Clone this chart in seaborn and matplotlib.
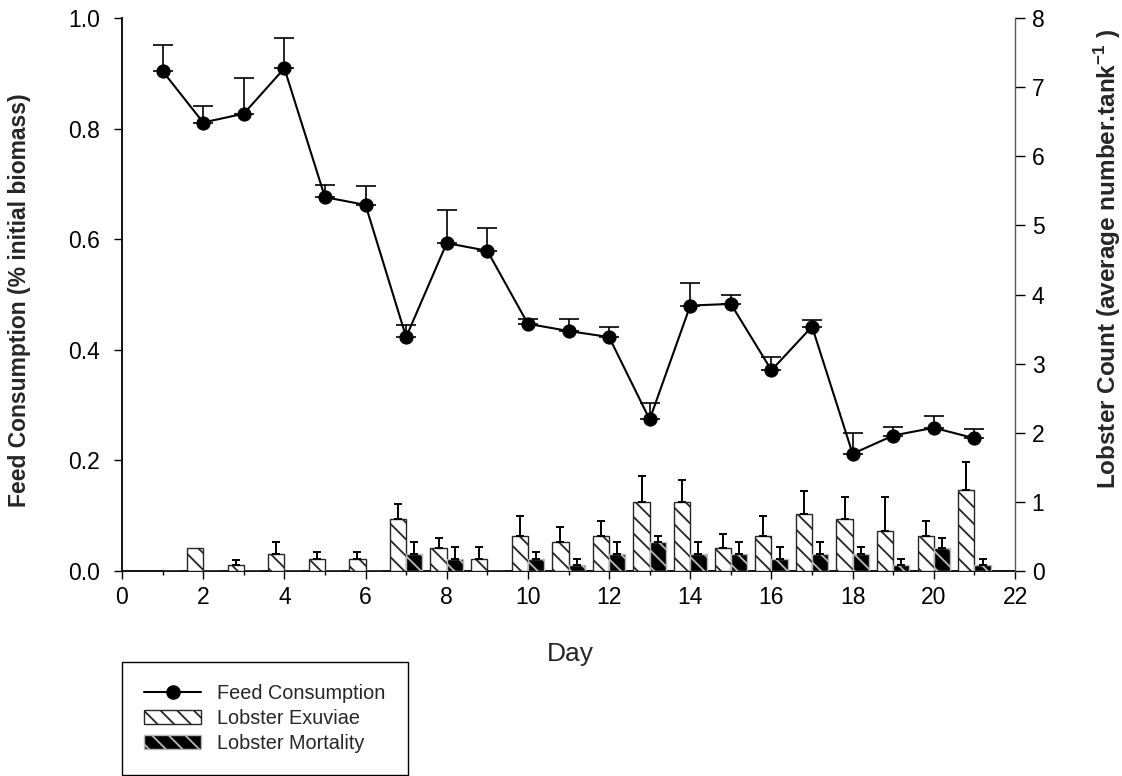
import numpy as np
import pandas as pd
import matplotlib
matplotlib.use("Agg")
import matplotlib.pyplot as plt
from matplotlib.lines import Line2D
from matplotlib.patches import Patch
from matplotlib.ticker import MultipleLocator, FormatStrFormatter
import seaborn as sns

# Daily trial data
days = list(range(1, 22))

feed = [0.904, 0.811, 0.827, 0.909, 0.676, 0.662, 0.423, 0.593, 0.579, 0.447, 0.434,
        0.423, 0.274, 0.480, 0.483, 0.363, 0.442, 0.212, 0.245, 0.259, 0.240]
feed_err = [0.048, 0.030, 0.065, 0.054, 0.022, 0.034, 0.022, 0.059, 0.042, 0.009, 0.022,
            0.018, 0.030, 0.041, 0.016, 0.024, 0.011, 0.037, 0.016, 0.021, 0.017]

exuviae = [0.0, 0.33, 0.08, 0.25, 0.17, 0.17, 0.75, 0.33, 0.17, 0.50, 0.42,
           0.50, 1.00, 1.00, 0.33, 0.50, 0.83, 0.75, 0.58, 0.50, 1.17]
exuviae_err = [0.0, 0.0, 0.08, 0.17, 0.10, 0.10, 0.22, 0.15, 0.17, 0.30, 0.21,
               0.22, 0.37, 0.31, 0.21, 0.30, 0.33, 0.32, 0.49, 0.22, 0.40]

mortality = [0.0, 0.0, 0.0, 0.0, 0.0, 0.0, 0.25, 0.17, 0.0, 0.17, 0.08,
             0.25, 0.42, 0.25, 0.25, 0.17, 0.25, 0.25, 0.08, 0.33, 0.08]
mortality_err = [0.0, 0.0, 0.0, 0.0, 0.0, 0.0, 0.17, 0.17, 0.0, 0.10, 0.10,
                 0.17, 0.09, 0.17, 0.17, 0.17, 0.17, 0.09, 0.09, 0.15, 0.09]

series_names = ["Lobster Exuviae", "Lobster Mortality"]

sns.set_theme(style="ticks")
plt.rcParams["font.family"] = ["Liberation Sans", "DejaVu Sans"]
plt.rcParams["mathtext.fontset"] = "custom"
plt.rcParams["mathtext.rm"] = "Liberation Sans"
plt.rcParams["mathtext.bf"] = "Liberation Sans:bold"
plt.rcParams["hatch.linewidth"] = 1.3

W, H = 1122, 776
fig = plt.figure(figsize=(W / 100, H / 100), dpi=100)
x0, x1, y0, y1 = 122, 1015, 18, 571
ax = fig.add_axes([x0 / W, 1 - y1 / H, (x1 - x0) / W, (y1 - y0) / H])
ax2 = ax.twinx()

# Bars (right axis): exuviae and mortality counts, dodged around each day
counts = pd.DataFrame({
    "Day": days * 2,
    "Count": exuviae + mortality,
    "Type": [series_names[0]] * len(days) + [series_names[1]] * len(days),
})
sns.barplot(data=counts, x="Day", y="Count", hue="Type", hue_order=series_names,
            native_scale=True, errorbar=None, width=0.8, saturation=1,
            palette={series_names[0]: "white", series_names[1]: "black"},
            legend=False, ax=ax2)

styles = [dict(edgecolor="0.15", hatch="\\\\"), dict(edgecolor="0.72", hatch="\\\\")]
errs = [exuviae_err, mortality_err]
vals = [exuviae, mortality]
for cont, st, err, val in zip(ax2.containers, styles, errs, vals):
    xs = []
    for p in cont.patches:
        p.set_edgecolor(st["edgecolor"])
        p.set_hatch(st["hatch"])
        p.set_linewidth(1.0)
        xs.append(p.get_x() + p.get_width() / 2)
    e = np.array(err, dtype=float)
    v = np.array(val, dtype=float)
    mask = e > 0
    ax2.errorbar(np.array(xs)[mask], v[mask], yerr=[np.zeros(mask.sum()), e[mask]],
                 fmt="none", ecolor="black", elinewidth=1.4, capsize=3.2,
                 capthick=1.4, zorder=3)

# Feed consumption line (left axis)
sns.lineplot(x=days, y=feed, ax=ax, color="black", linewidth=1.5, marker="o",
             markersize=9.5, markeredgecolor="black", zorder=4)
ax.errorbar(days, feed, yerr=[np.zeros(len(feed)), feed_err], fmt="none",
            ecolor="black", elinewidth=1.2, capsize=7, capthick=1.2, zorder=3)

# Axes and ticks
ax.set_xlim(0, 22)
ax.set_ylim(0, 1.0)
ax2.set_ylim(0, 8)
ax.xaxis.set_major_locator(MultipleLocator(2))
ax.xaxis.set_minor_locator(MultipleLocator(1))
ax.yaxis.set_major_locator(MultipleLocator(0.2))
ax.yaxis.set_major_formatter(FormatStrFormatter("%.1f"))
ax2.yaxis.set_major_locator(MultipleLocator(1))

for a in (ax, ax2):
    a.tick_params(axis="both", which="major", direction="out", length=6, width=1.0,
                  labelsize=16.5, color="black", labelcolor="black", pad=5)
    a.tick_params(axis="both", which="minor", direction="out", length=3, width=1.0,
                  color="black")
ax.tick_params(axis="y", which="major", pad=10)
ax2.tick_params(axis="y", which="major", length=7)

ax.spines["top"].set_visible(False)
ax.spines["right"].set_visible(False)
for s in ("top", "left", "bottom"):
    ax2.spines[s].set_visible(False)
for s in ("left", "bottom"):
    ax.spines[s].set_linewidth(1.3)
    ax.spines[s].set_color("black")
ax2.spines["right"].set_linewidth(1.0)
ax2.spines["right"].set_color("0.35")

ax.set_xlabel("Day", fontsize=19)
ax.xaxis.set_label_coords(0.5017, -0.128)
ax.set_ylabel("Feed Consumption (% initial biomass)", fontsize=16.5, fontweight="bold")
ax.yaxis.set_label_coords(-0.102, 0.49)
ax2.set_ylabel(r"Lobster Count (average number.tank$^{\mathbf{-1}}$ )",
               fontsize=17.5, fontweight="bold", rotation=90)
ax2.yaxis.set_label_coords(1.086, 0.565)

# Legend below the plot
handles = [
    Line2D([0], [0], color="black", linewidth=1.5, marker="o", markersize=9.5),
    Patch(facecolor="white", edgecolor="0.15", hatch="\\\\"),
    Patch(facecolor="black", edgecolor="0.72", hatch="\\\\"),
]
labels = ["Feed Consumption"] + series_names
leg = fig.legend(handles, labels, loc="upper left",
                 bbox_to_anchor=(x0 / W, 1 - 662 / H), bbox_transform=fig.transFigure,
                 frameon=True, fancybox=False, framealpha=1, edgecolor="black",
                 borderpad=1.1, borderaxespad=0, handlelength=2.9, handleheight=0.72,
                 labelspacing=0.3, handletextpad=0.8, fontsize=14.3)
leg.get_frame().set_linewidth(1.0)

fig.savefig("out.png", dpi=100)
